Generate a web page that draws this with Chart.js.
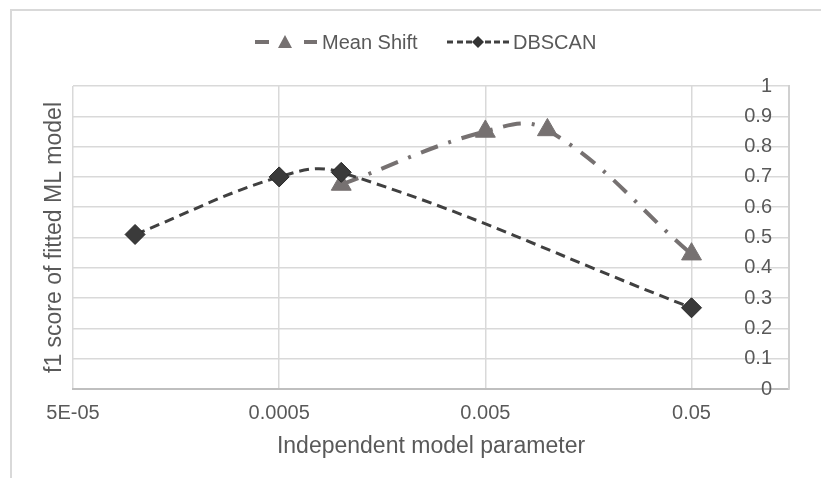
<!DOCTYPE html>
<html>
<head>
    <title>f1 score of fitted ML model</title>
    <script src="https://cdn.jsdelivr.net/npm/chart.js@4.4.0/dist/chart.umd.min.js"></script>
    <style>
        html, body { margin: 0; padding: 0; background: #fff; overflow: hidden; }
        #frame { position: absolute; left: 10px; top: 9px; width: 840px; height: 500px;
                 border-left: 2px solid #d9d9d9; border-top: 2px solid #d9d9d9; }
        #wrap { position: absolute; left: 0; top: 0; width: 821px; height: 478px; }
    </style>
</head>
<body>
    <div id="frame"></div>
    <div id="wrap"><canvas id="f1Chart" width="821" height="478"></canvas></div>

    <script>
        // tick labels of the log x axis
        var xTickValues = [0.00005, 0.0005, 0.005, 0.05];
        var xTickLabels = ['5E-05', '0.0005', '0.005', '0.05'];

        // series (x = model parameter, y = f1 score)
        var meanShiftX = [0.001, 0.005, 0.01, 0.05];
        var meanShiftY = [0.675, 0.85, 0.855, 0.445];
        var dbscanX = [0.0001, 0.0005, 0.001, 0.05];
        var dbscanY = [0.51, 0.70, 0.715, 0.268];

        var textColor = '#595959';
        var fontFamily = "'Liberation Sans', Arial, sans-serif";

        function toPoints(xs, ys) {
            return xs.map(function (x, i) { return { x: x, y: ys[i] }; });
        }

        var meanShiftStyle = { color: '#767171', dash: [18, 11, 3, 11], width: 4 };
        var dbscanStyle = { color: '#404040', dash: [10, 6], width: 3 };

        function strokeSeg(ctx, x1, x2, y, color, w) {
            ctx.strokeStyle = color;
            ctx.lineWidth = w;
            ctx.beginPath();
            ctx.moveTo(x1, y);
            ctx.lineTo(x2, y);
            ctx.stroke();
        }

        // legend at the top and the two axis titles
        var titlesPlugin = {
            id: 'titlesPlugin',
            afterDraw: function (chart) {
                var ctx = chart.ctx;
                var area = chart.chartArea;
                ctx.save();
                ctx.textBaseline = 'middle';
                ctx.fillStyle = textColor;
                ctx.font = '20px ' + fontFamily;

                // Mean Shift sample: dash, triangle, dash
                var y = 42, x = 255;
                strokeSeg(ctx, x, x + 14, y, meanShiftStyle.color, 4);
                strokeSeg(ctx, x + 49, x + 62, y, meanShiftStyle.color, 4);
                ctx.fillStyle = meanShiftStyle.color;
                ctx.beginPath();
                ctx.moveTo(x + 30, y - 7);
                ctx.lineTo(x + 37, y + 6);
                ctx.lineTo(x + 23, y + 6);
                ctx.closePath();
                ctx.fill();
                ctx.fillStyle = textColor;
                ctx.textAlign = 'left';
                ctx.fillText('Mean Shift', x + 67, y + 1);

                // DBSCAN sample: short dashes, diamond, short dashes
                x = 447;
                [0, 10, 19, 38, 47, 56].forEach(function (d) {
                    strokeSeg(ctx, x + d, x + d + 6, y, dbscanStyle.color, 3);
                });
                ctx.fillStyle = '#333';
                ctx.beginPath();
                ctx.moveTo(x + 31, y - 6);
                ctx.lineTo(x + 37, y);
                ctx.lineTo(x + 31, y + 6);
                ctx.lineTo(x + 25, y);
                ctx.closePath();
                ctx.fill();
                ctx.fillStyle = textColor;
                ctx.fillText('DBSCAN', x + 66, y + 1);

                // axis titles
                ctx.font = '23px ' + fontFamily;
                ctx.textAlign = 'center';
                ctx.fillText('Independent model parameter', (area.left + area.right) / 2, 447);

                ctx.translate(55, (area.top + area.bottom) / 2);
                ctx.rotate(-Math.PI / 2);
                ctx.fillText('f1 score of fitted ML model', 0, 0);
                ctx.restore();
            }
        };

        var ctx = document.getElementById('f1Chart').getContext('2d');
        var chart = new Chart(ctx, {
            type: 'line',
            data: {
                datasets: [{
                    label: 'DBSCAN',
                    data: toPoints(dbscanX, dbscanY),
                    order: 0,
                    borderColor: dbscanStyle.color,
                    borderWidth: dbscanStyle.width,
                    borderDash: dbscanStyle.dash,
                    tension: 0.4,
                    pointStyle: 'rectRot',
                    pointRadius: 10,
                    pointBackgroundColor: '#3a3a3a',
                    pointBorderColor: '#262626',
                    pointBorderWidth: 1
                }, {
                    label: 'Mean Shift',
                    data: toPoints(meanShiftX, meanShiftY),
                    order: 1,
                    borderColor: meanShiftStyle.color,
                    borderWidth: meanShiftStyle.width,
                    borderDash: meanShiftStyle.dash,
                    tension: 0.4,
                    pointStyle: 'triangle',
                    pointRadius: 11.5,
                    pointBackgroundColor: '#767171',
                    pointBorderColor: '#767171',
                    pointBorderWidth: 1
                }]
            },
            options: {
                responsive: false,
                animation: false,
                events: [],
                layout: { padding: { left: 73, right: 32, top: 86, bottom: 41 } },
                plugins: {
                    legend: { display: false },
                    tooltip: { enabled: false }
                },
                scales: {
                    x: {
                        type: 'logarithmic',
                        min: 0.00005,
                        max: 0.1485,
                        afterBuildTicks: function (scale) {
                            scale.ticks = xTickValues.map(function (v) { return { value: v }; });
                        },
                        ticks: {
                            autoSkip: false,
                            maxRotation: 0,
                            padding: 12,
                            color: textColor,
                            font: { family: fontFamily, size: 20 },
                            callback: function (v, i) { return xTickLabels[i]; }
                        },
                        grid: { color: '#d9d9d9', lineWidth: 1.5, drawTicks: false },
                        border: { color: '#bfbfbf', width: 2 }
                    },
                    y: {
                        position: 'right',
                        min: 0,
                        max: 1,
                        afterFit: function (scale) { scale.width = 0; },
                        ticks: {
                            stepSize: 0.1,
                            mirror: true,
                            padding: -17,
                            color: textColor,
                            font: { family: fontFamily, size: 20 },
                            callback: function (v) { return String(Math.round(v * 10) / 10); }
                        },
                        grid: { color: '#d9d9d9', lineWidth: 1.5, drawTicks: false },
                        border: { color: '#d0d0d0', width: 2 }
                    }
                }
            },
            plugins: [titlesPlugin]
        });
    </script>
</body>
</html>
